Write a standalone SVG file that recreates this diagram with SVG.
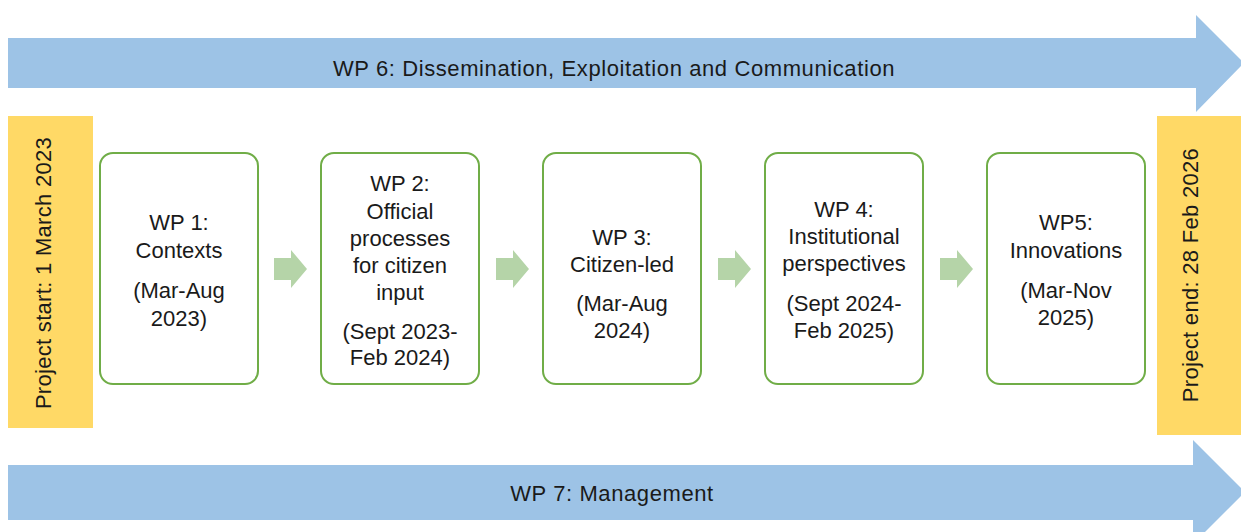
<svg xmlns="http://www.w3.org/2000/svg" width="1241" height="532" viewBox="0 0 1241 532">
<style>
.t{font-family:"Liberation Sans",Arial,sans-serif;font-size:22px;fill:#1a1a1a;text-anchor:middle}
.w{letter-spacing:0.6px}
.box{fill:#fff;stroke:#70AD47;stroke-width:2}
.big{fill:#9DC3E6}
.yel{fill:#FFD966}
.sm{fill:#B5D4A8}
</style>
<rect width="1241" height="532" fill="#fff"/>
<g id="wp6">
<polygon class="big" points="8,38 1196,38 1196,15 1244,63 1196,112 1196,88 8,88"/>
<text class="t w" x="614" y="76">WP 6: Dissemination, Exploitation and Communication</text>
</g>
<g id="wp7">
<polygon class="big" points="8,465 1193,465 1193,440 1245,492 1193,544 1193,520 8,520"/>
<text class="t w" x="612" y="501">WP 7: Management</text>
</g>
<g id="start">
<rect class="yel" x="8" y="116" width="85" height="312"/>
<text class="t" transform="translate(51,273) rotate(-90)" letter-spacing="0.3">Project start: 1 March 2023</text>
</g>
<g id="end">
<rect class="yel" x="1157" y="116" width="84" height="319"/>
<text class="t" transform="translate(1198,275) rotate(-90)" letter-spacing="0.3">Project end: 28 Feb 2026</text>
</g>
<g id="connectors">
<polygon class="sm" points="274,258 291,258 291,250 307,269 291,288 291,280 274,280"/>
<polygon class="sm" points="496,258 513,258 513,250 529,269 513,288 513,280 496,280"/>
<polygon class="sm" points="718,258 735,258 735,250 751,269 735,288 735,280 718,280"/>
<polygon class="sm" points="940,258 957,258 957,250 973,269 957,288 957,280 940,280"/>
</g>
<g id="wp1">
<rect class="box" x="100" y="153" width="158" height="231" rx="13"/>
<text class="t" x="179" y="230">WP 1:</text>
<text class="t" x="179" y="258">Contexts</text>
<text class="t" x="179" y="298">(Mar-Aug</text>
<text class="t" x="179" y="326">2023)</text>
</g>
<g id="wp2">
<rect class="box" x="321" y="153" width="158" height="231" rx="13"/>
<text class="t" x="400" y="191">WP 2:</text>
<text class="t" x="400" y="219">Official</text>
<text class="t" x="400" y="246">processes</text>
<text class="t" x="400" y="273">for citizen</text>
<text class="t" x="400" y="300">input</text>
<text class="t" x="400" y="339">(Sept 2023-</text>
<text class="t" x="400" y="365">Feb 2024)</text>
</g>
<g id="wp3">
<rect class="box" x="543" y="153" width="158" height="231" rx="13"/>
<text class="t" x="622" y="245">WP 3:</text>
<text class="t" x="622" y="272">Citizen-led</text>
<text class="t" x="622" y="311">(Mar-Aug</text>
<text class="t" x="622" y="338">2024)</text>
</g>
<g id="wp4">
<rect class="box" x="765" y="153" width="158" height="231" rx="13"/>
<text class="t" x="844" y="217">WP 4:</text>
<text class="t" x="844" y="244">Institutional</text>
<text class="t" x="844" y="271">perspectives</text>
<text class="t" x="844" y="311">(Sept 2024-</text>
<text class="t" x="844" y="338">Feb 2025)</text>
</g>
<g id="wp5">
<rect class="box" x="987" y="153" width="158" height="231" rx="13"/>
<text class="t" x="1066" y="230">WP5:</text>
<text class="t" x="1066" y="258">Innovations</text>
<text class="t" x="1066" y="298">(Mar-Nov</text>
<text class="t" x="1066" y="325">2025)</text>
</g>
</svg>
